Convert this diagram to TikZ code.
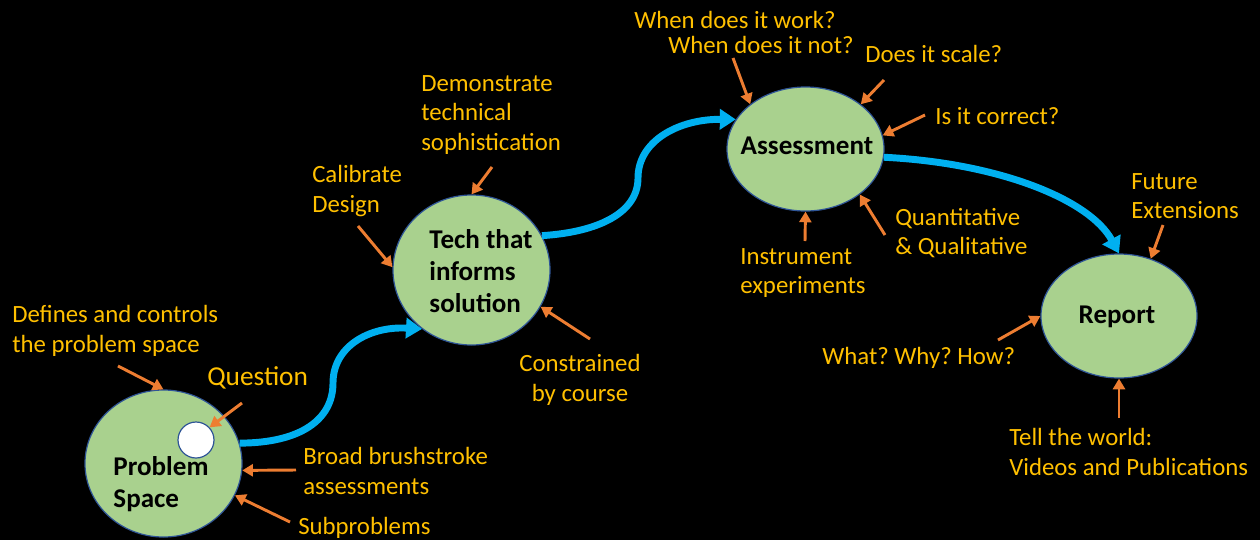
\documentclass[tikz,border=0pt]{standalone}
\usepackage{fontspec}
\setmainfont{Carlito}
\frenchspacing
\usetikzlibrary{arrows.meta,shapes.geometric}
\definecolor{gold}{HTML}{FFC000}
\definecolor{orng}{HTML}{ED7D31}
\definecolor{lgreen}{HTML}{A9D18E}
\definecolor{edgeblue}{HTML}{2F5597}
\definecolor{cyanb}{HTML}{00B0F0}
\tikzset{
  blob/.style={ellipse, fill=lgreen, draw=edgeblue, line width=0.9pt, inner sep=0pt},
  lbl/.style={text=gold, font=\fontsize{18.6}{22}\selectfont\frenchspacing, inner sep=0pt, anchor=west, align=left},
  ntext/.style={text=black, font=\fontsize{20.3}{24}\selectfont\bfseries, inner sep=0pt, align=left},
  oarr/.style={draw=orng, line width=2.2pt, -{Triangle[length=8pt,width=9pt]}},
  barr/.style={draw=cyanb, line width=5.2pt, -{Triangle[length=12pt,width=15pt]}},
}
\begin{document}
\begin{tikzpicture}[x=0.75pt,y=-0.75pt]
\useasboundingbox (0,0) rectangle (1260,540);
\fill[black] (0,0) rectangle (1260,540);

% ellipses
\node[blob, minimum width={157*0.75pt}, minimum height={147*0.75pt}] (P) at (163.5,463.5) {};
\node[circle, fill=white, draw=edgeblue, line width=0.9pt, minimum size={36*0.75pt}, inner sep=0pt] (Q) at (196,440) {};
\node[blob, minimum width={157*0.75pt}, minimum height={150*0.75pt}] (T) at (471.5,270) {};
\node[blob, minimum width={157*0.75pt}, minimum height={124*0.75pt}] (A) at (805.5,149) {};
\node[blob, minimum width={156*0.75pt}, minimum height={124*0.75pt}] (R) at (1119,316) {};

% node texts
\node[ntext] (Pt) at (161,484) {Problem\\Space};
\node[ntext] (Tt) at (481,271) {Tech that\\informs\\solution};
\node[ntext] (At) at (807,146) {Assessment};
\node[ntext] (Rt) at (1117,317) {Report};

% labels
\node[lbl] (l1) at (12,331) {Defines and controls\\the problem space};
\node[lbl, font=\fontsize{20.5}{24}\selectfont] (l2) at (207,378) {Question};
\node[lbl] (l3) at (303,471) {Broad brushstroke\\assessments};
\node[lbl] (l4) at (298,528) {Subproblems};
\node[lbl] (l5) at (312,191) {Calibrate\\Design};
\node[lbl] (l6) at (421,115) {Demonstrate\\technical\\sophistication};
\node[lbl, anchor=center, align=center] (l7) at (580,380) {Constrained\\by course};
\node[lbl] (l8) at (634,20) {When does it work?};
\node[lbl] (l9) at (668,45) {When does it not?};
\node[lbl] (l10) at (865,54) {Does it scale?};
\node[lbl] (l11) at (935,116) {Is it correct?};
\node[lbl] (l12) at (895,233) {Quantitative\\\& Qualitative};
\node[lbl] (l13) at (740,273) {Instrument\\experiments};
\node[lbl] (l14) at (1131,196) {Future\\Extensions};
\node[lbl] (l15) at (822,358) {What? Why? How?};
\node[lbl] (l16) at (1009,452) {Tell the world:\\Videos and Publications};

% arrow start coordinates
\coordinate (s1) at (118,366);
\coordinate (s2) at (242,403);
\coordinate (s3) at (296,470);
\coordinate (s4) at (290,522);
\coordinate (s5) at (358,226);
\coordinate (s6) at (492,167);
\coordinate (s7) at (590,339);
\coordinate (s8) at (733,58);
\coordinate (s9) at (884,80);
\coordinate (s10) at (925,115);
\coordinate (s11) at (805,241);
\coordinate (s12) at (885,235);
\coordinate (s13) at (1163,225);
\coordinate (s14) at (998,340);
\coordinate (s15) at (1119,418);

% orange arrows
\draw[oarr] (s1) -- (P.90);
\draw[oarr] (s2) -- (Q.43);
\draw[oarr] (s3) -- (P.-5);
\draw[oarr] (s4) -- (P.-24);
\draw[oarr] (s5) -- (T.178);
\draw[oarr] (s6) -- (T.90);
\draw[oarr] (s7) -- (T.-28);
\draw[oarr] (s8) -- (A.141);
\draw[oarr] (s9) -- (A.39);
\draw[oarr] (s10) -- (A.10);
\draw[oarr] (s11) -- (A.-90);
\draw[oarr] (s12) -- (A.-40);
\draw[oarr] (s13) -- (R.61);
\draw[oarr] (s14) -- (R.180);
\draw[oarr] (s15) -- (R.-90);

% blue arrows
\draw[barr] (P.15) .. controls (300,443) and (333,420) .. (333,383)
  .. controls (333,346) and (370,326) .. (T.230);
\draw[barr] (T.26) .. controls (600,232) and (638,212) .. (638,178)
  .. controls (638,140) and (680,119) .. (A.157);
\draw[barr] (A.-6) .. controls (1000,163) and (1090,200) .. (R.90);
\end{tikzpicture}
\end{document}
